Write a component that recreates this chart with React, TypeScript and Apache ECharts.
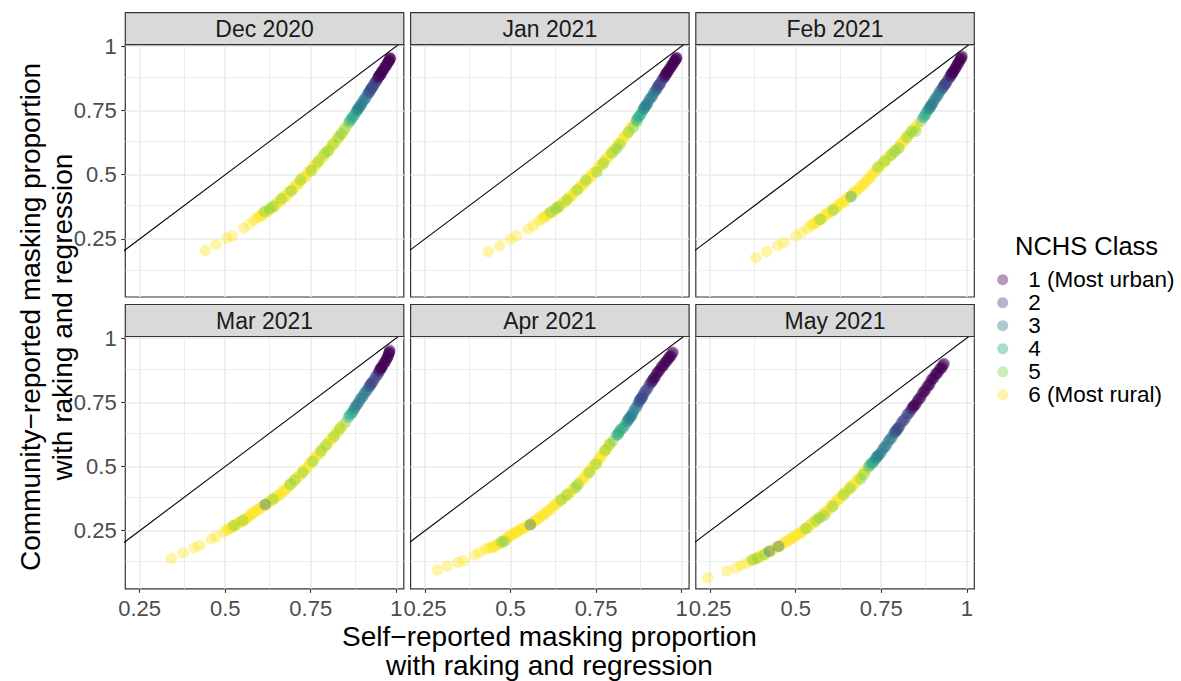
import React, { useEffect, useRef } from "react";
import * as echarts from "echarts";

const panelTitles = ["Dec 2020", "Jan 2021", "Feb 2021", "Mar 2021", "Apr 2021", "May 2021"];
const classNames = ["1 (Most urban)", "2", "3", "4", "5", "6 (Most rural)"];
const classColors = [
  "rgba(68,1,84,0.5)",
  "rgba(65,68,135,0.5)",
  "rgba(42,120,142,0.5)",
  "rgba(34,168,132,0.5)",
  "rgba(122,209,81,0.5)",
  "rgba(253,231,37,0.5)",
];
const xTicks = [0.25, 0.5, 0.75, 1];
const yTicks = [0.25, 0.5, 0.75, 1];
const xMinor = [0.375, 0.625, 0.875];
const yMinor = [0.125, 0.375, 0.625, 0.875];
const xRange = [0.208, 1.022];
const yRange = [0.024, 1.006];
const identityLine = [[0, 0], [1.1, 1.1]];

// [self-reported, community-reported, NCHS class]
const dec2020 = [
  [0.442,0.205,6],[0.473,0.227,6],[0.505,0.253,6],[0.521,0.262,6],[0.554,0.292,6],[0.570,0.307,6],[0.584,0.322,6],
  [0.594,0.331,6],[0.603,0.340,6],[0.612,0.349,6],[0.621,0.357,6],[0.630,0.365,6],[0.639,0.373,6],[0.648,0.383,6],
  [0.657,0.394,6],[0.666,0.405,6],[0.675,0.416,6],[0.684,0.427,6],[0.693,0.439,6],[0.702,0.451,6],[0.711,0.463,6],
  [0.720,0.475,6],[0.729,0.488,6],[0.738,0.501,6],[0.747,0.513,6],[0.756,0.526,6],[0.765,0.540,6],[0.774,0.553,6],
  [0.783,0.567,6],[0.792,0.581,6],[0.801,0.595,6],[0.810,0.610,6],[0.819,0.624,6],[0.828,0.639,6],[0.837,0.655,6],
  [0.846,0.671,6],[0.854,0.686,6],
  [0.598,0.338,6],[0.607,0.341,6],[0.616,0.356,6],[0.626,0.358,6],[0.635,0.373,6],[0.644,0.375,6],[0.652,0.392,6],
  [0.661,0.396,6],[0.670,0.414,6],[0.679,0.417,6],[0.688,0.436,6],[0.697,0.441,6],[0.706,0.460,6],[0.715,0.465,6],
  [0.724,0.487,6],[0.733,0.490,6],[0.742,0.510,6],[0.751,0.515,6],[0.760,0.536,6],[0.769,0.541,6],[0.778,0.563,6],
  [0.787,0.569,6],[0.796,0.592,6],[0.805,0.598,6],[0.814,0.621,6],[0.823,0.627,6],[0.832,0.650,6],[0.841,0.658,6],
  [0.615,0.357,5],[0.630,0.367,5],[0.664,0.406,5],[0.693,0.437,5],[0.752,0.516,5],[0.771,0.550,5],[0.790,0.582,5],
  [0.815,0.617,5],[0.831,0.645,5],[0.849,0.679,5],[0.860,0.700,5],[0.868,0.714,5],
  [0.640,0.378,5],[0.720,0.480,5],[0.800,0.590,5],[0.840,0.660,5],
  [0.864,0.708,4],[0.873,0.725,4],[0.881,0.741,4],[0.889,0.757,4],[0.896,0.771,4],
  [0.869,0.719,4],[0.877,0.731,4],[0.885,0.751,4],
  [0.886,0.750,3],[0.893,0.765,3],[0.900,0.779,3],[0.907,0.793,3],[0.913,0.806,3],[0.919,0.818,3],[0.925,0.830,3],
  [0.931,0.843,3],[0.937,0.856,3],
  [0.889,0.759,3],[0.896,0.770,3],[0.903,0.788,3],[0.910,0.797,3],[0.916,0.814,3],[0.922,0.822,3],[0.928,0.838,3],
  [0.921,0.822,2],[0.928,0.837,2],[0.935,0.851,2],[0.941,0.864,2],[0.947,0.877,2],[0.953,0.889,2],[0.958,0.899,2],
  [0.924,0.831,2],[0.931,0.842,2],[0.938,0.859,2],[0.944,0.867,2],[0.950,0.885,2],[0.955,0.891,2],
  [0.946,0.876,1],[0.951,0.886,1],[0.956,0.896,1],[0.961,0.906,1],[0.965,0.915,1],[0.969,0.923,1],[0.973,0.931,1],
  [0.976,0.938,1],[0.979,0.944,1],[0.981,0.949,1],[0.983,0.955,1],
  [0.948,0.883,1],[0.953,0.889,1],[0.958,0.903,1],[0.963,0.909,1],[0.967,0.921,1],[0.971,0.925,1],[0.975,0.937,1],
  [0.978,0.940,1],[0.982,0.952,1],[0.980,0.951,1],
];

const jan2021 = [
  [0.435,0.201,6],[0.468,0.224,6],[0.500,0.249,6],[0.518,0.262,6],[0.552,0.289,6],[0.567,0.302,6],[0.583,0.320,6],
  [0.593,0.329,6],[0.602,0.338,6],[0.611,0.347,6],[0.620,0.355,6],[0.629,0.364,6],[0.638,0.372,6],[0.647,0.382,6],
  [0.656,0.393,6],[0.665,0.403,6],[0.674,0.414,6],[0.683,0.425,6],[0.692,0.437,6],[0.701,0.449,6],[0.710,0.461,6],
  [0.719,0.473,6],[0.728,0.486,6],[0.737,0.498,6],[0.746,0.511,6],[0.755,0.524,6],[0.764,0.537,6],[0.773,0.551,6],
  [0.782,0.565,6],[0.791,0.579,6],[0.800,0.593,6],[0.809,0.607,6],[0.818,0.622,6],[0.827,0.637,6],[0.836,0.652,6],
  [0.845,0.668,6],[0.853,0.683,6],[0.860,0.697,6],
  [0.597,0.336,6],[0.606,0.339,6],[0.615,0.354,6],[0.625,0.356,6],[0.633,0.371,6],[0.642,0.373,6],[0.651,0.390,6],
  [0.660,0.394,6],[0.669,0.411,6],[0.678,0.416,6],[0.687,0.434,6],[0.696,0.439,6],[0.705,0.458,6],[0.714,0.463,6],
  [0.723,0.482,6],[0.732,0.488,6],[0.741,0.507,6],[0.750,0.513,6],[0.759,0.533,6],[0.768,0.539,6],[0.777,0.560,6],
  [0.786,0.567,6],[0.795,0.588,6],[0.804,0.596,6],[0.813,0.618,6],[0.822,0.625,6],[0.831,0.647,6],[0.840,0.656,6],
  [0.849,0.678,6],
  [0.617,0.354,5],[0.633,0.368,5],[0.665,0.402,5],[0.695,0.441,5],[0.753,0.510,5],[0.772,0.545,5],[0.797,0.584,5],
  [0.820,0.617,5],[0.860,0.684,5],[0.870,0.706,5],
  [0.640,0.376,5],[0.720,0.478,5],[0.810,0.601,5],[0.845,0.666,5],
  [0.868,0.712,4],[0.876,0.728,4],[0.884,0.744,4],[0.891,0.759,4],[0.898,0.772,4],
  [0.872,0.722,4],[0.880,0.734,4],[0.888,0.754,4],
  [0.890,0.758,3],[0.897,0.772,3],[0.904,0.787,3],[0.911,0.801,3],[0.917,0.813,3],[0.923,0.826,3],[0.929,0.839,3],
  [0.935,0.852,3],
  [0.893,0.767,3],[0.900,0.777,3],[0.907,0.796,3],[0.914,0.804,3],[0.920,0.822,3],[0.926,0.830,3],
  [0.928,0.836,2],[0.935,0.851,2],[0.941,0.864,2],[0.947,0.876,2],[0.953,0.888,2],[0.959,0.900,2],
  [0.931,0.846,2],[0.938,0.854,2],[0.944,0.872,2],[0.950,0.879,2],[0.956,0.897,2],
  [0.950,0.882,1],[0.956,0.894,1],[0.961,0.904,1],[0.966,0.914,1],[0.970,0.922,1],[0.974,0.930,1],[0.978,0.938,1],
  [0.981,0.945,1],[0.984,0.951,1],[0.986,0.955,1],
  [0.953,0.890,1],[0.958,0.897,1],[0.963,0.911,1],[0.968,0.916,1],[0.972,0.929,1],[0.976,0.932,1],[0.979,0.944,1],
  [0.983,0.948,1],[0.985,0.955,1],
];

const feb2021 = [
  [0.384,0.177,6],[0.415,0.201,6],[0.447,0.224,6],[0.466,0.236,6],[0.501,0.262,6],[0.518,0.276,6],[0.535,0.292,6],
  [0.545,0.301,6],[0.555,0.311,6],[0.564,0.319,6],[0.574,0.329,6],[0.584,0.339,6],[0.594,0.350,6],[0.604,0.360,6],
  [0.614,0.369,6],[0.624,0.379,6],[0.634,0.389,6],[0.644,0.400,6],[0.654,0.411,6],[0.664,0.423,6],[0.674,0.434,6],
  [0.684,0.446,6],[0.694,0.458,6],[0.704,0.471,6],[0.714,0.485,6],[0.724,0.500,6],[0.734,0.516,6],[0.744,0.531,6],
  [0.754,0.545,6],[0.764,0.558,6],[0.774,0.572,6],[0.784,0.585,6],[0.794,0.598,6],[0.803,0.611,6],[0.812,0.625,6],
  [0.821,0.640,6],[0.830,0.654,6],[0.839,0.668,6],[0.848,0.681,6],[0.857,0.695,6],
  [0.550,0.309,6],[0.559,0.313,6],[0.569,0.327,6],[0.579,0.332,6],[0.589,0.348,6],[0.599,0.352,6],[0.609,0.368,6],
  [0.619,0.371,6],[0.629,0.387,6],[0.639,0.392,6],[0.649,0.409,6],[0.659,0.414,6],[0.669,0.432,6],[0.679,0.437,6],
  [0.689,0.455,6],[0.699,0.461,6],[0.709,0.481,6],[0.719,0.489,6],[0.729,0.511,6],[0.739,0.520,6],[0.749,0.541,6],
  [0.759,0.549,6],[0.769,0.568,6],[0.779,0.576,6],[0.789,0.595,6],[0.798,0.601,6],[0.807,0.621,6],[0.816,0.629,6],
  [0.825,0.650,6],[0.834,0.658,6],[0.843,0.677,6],[0.852,0.685,6],
  [0.572,0.326,5],[0.760,0.553,5],[0.780,0.578,5],[0.802,0.604,5],[0.825,0.645,5],[0.851,0.669,5],[0.866,0.708,5],
  [0.880,0.734,5],
  [0.610,0.362,5],[0.740,0.530,5],[0.790,0.590,5],[0.838,0.668,5],
  [0.662,0.415,4],[0.872,0.722,4],[0.881,0.740,4],[0.889,0.756,4],[0.897,0.772,4],
  [0.876,0.728,4],[0.885,0.750,4],[0.893,0.762,4],
  [0.890,0.758,3],[0.897,0.773,3],[0.904,0.788,3],[0.911,0.802,3],[0.918,0.816,3],[0.925,0.830,3],[0.932,0.843,3],
  [0.938,0.855,3],
  [0.894,0.767,3],[0.901,0.779,3],[0.908,0.797,3],[0.915,0.808,3],[0.921,0.825,3],[0.928,0.834,3],[0.935,0.851,3],
  [0.930,0.840,2],[0.937,0.853,2],[0.943,0.865,2],[0.949,0.877,2],[0.955,0.889,2],[0.960,0.900,2],
  [0.934,0.849,2],[0.940,0.857,2],[0.946,0.873,2],[0.952,0.881,2],[0.957,0.896,2],
  [0.952,0.885,1],[0.958,0.896,1],[0.963,0.906,1],[0.967,0.915,1],[0.971,0.925,1],[0.975,0.934,1],[0.979,0.943,1],
  [0.982,0.951,1],[0.985,0.958,1],[0.986,0.962,1],
  [0.955,0.893,1],[0.960,0.899,1],[0.965,0.913,1],[0.969,0.918,1],[0.973,0.932,1],[0.977,0.936,1],[0.980,0.949,1],
  [0.984,0.953,1],
];

const mar2021 = [
  [0.343,0.142,6],[0.377,0.162,6],[0.409,0.184,6],[0.425,0.192,6],[0.459,0.218,6],[0.474,0.227,6],[0.496,0.246,6],
  [0.505,0.252,6],[0.513,0.259,6],[0.521,0.265,6],[0.529,0.272,6],[0.537,0.278,6],[0.545,0.285,6],[0.554,0.291,6],
  [0.562,0.298,6],[0.570,0.307,6],[0.578,0.315,6],[0.586,0.324,6],[0.596,0.332,6],[0.605,0.341,6],[0.615,0.350,6],
  [0.625,0.359,6],[0.634,0.367,6],[0.644,0.376,6],[0.654,0.386,6],[0.664,0.397,6],[0.674,0.408,6],[0.684,0.421,6],
  [0.693,0.434,6],[0.703,0.447,6],[0.713,0.460,6],[0.722,0.473,6],[0.732,0.486,6],[0.742,0.501,6],[0.751,0.516,6],
  [0.761,0.531,6],[0.771,0.546,6],[0.780,0.561,6],[0.790,0.576,6],[0.800,0.591,6],[0.810,0.606,6],[0.820,0.622,6],
  [0.828,0.635,6],[0.836,0.647,6],[0.844,0.660,6],
  [0.509,0.258,6],[0.517,0.260,6],[0.525,0.271,6],[0.533,0.273,6],[0.541,0.284,6],[0.550,0.286,6],[0.558,0.297,6],
  [0.566,0.300,6],[0.574,0.314,6],[0.582,0.317,6],[0.591,0.331,6],[0.600,0.334,6],[0.610,0.348,6],[0.620,0.352,6],
  [0.630,0.366,6],[0.639,0.369,6],[0.649,0.384,6],[0.659,0.389,6],[0.669,0.405,6],[0.679,0.412,6],[0.689,0.431,6],
  [0.698,0.437,6],[0.708,0.457,6],[0.718,0.464,6],[0.727,0.483,6],[0.737,0.491,6],[0.747,0.512,6],[0.756,0.521,6],
  [0.766,0.542,6],[0.776,0.551,6],[0.785,0.572,6],[0.795,0.581,6],[0.805,0.602,6],[0.815,0.611,6],[0.824,0.632,6],
  [0.832,0.638,6],[0.840,0.657,6],
  [0.525,0.270,5],[0.552,0.290,5],[0.703,0.447,5],[0.727,0.477,5],[0.756,0.520,5],[0.780,0.560,5],[0.818,0.618,5],
  [0.852,0.672,5],
  [0.640,0.374,5],[0.690,0.430,5],[0.795,0.585,5],[0.835,0.648,5],
  [0.860,0.692,4],[0.868,0.706,4],[0.876,0.720,4],
  [0.864,0.701,4],[0.872,0.711,4],
  [0.617,0.352,3],[0.878,0.726,3],[0.885,0.740,3],[0.892,0.754,3],[0.899,0.768,3],[0.906,0.782,3],[0.913,0.795,3],
  [0.920,0.808,3],[0.927,0.822,3],
  [0.881,0.735,3],[0.888,0.745,3],[0.895,0.763,3],[0.902,0.773,3],[0.909,0.790,3],[0.916,0.800,3],[0.923,0.817,3],
  [0.922,0.812,2],[0.930,0.828,2],[0.937,0.842,2],[0.944,0.856,2],[0.950,0.869,2],[0.956,0.882,2],
  [0.926,0.822,2],[0.933,0.833,2],[0.940,0.851,2],[0.947,0.861,2],[0.953,0.878,2],
  [0.950,0.872,1],[0.956,0.885,1],[0.961,0.894,1],[0.966,0.905,1],[0.970,0.914,1],[0.974,0.924,1],[0.977,0.933,1],
  [0.979,0.941,1],[0.980,0.948,1],[0.981,0.953,1],
  [0.953,0.881,1],[0.958,0.887,1],[0.963,0.901,1],[0.968,0.908,1],[0.972,0.921,1],[0.975,0.926,1],[0.978,0.939,1],
  [0.980,0.944,1],
];

const apr2021 = [
  [0.286,0.097,6],[0.315,0.113,6],[0.347,0.126,6],[0.362,0.133,6],[0.396,0.155,6],[0.410,0.166,6],[0.427,0.179,6],
  [0.437,0.182,6],[0.447,0.186,6],[0.457,0.192,6],[0.467,0.199,6],[0.476,0.207,6],[0.484,0.215,6],[0.492,0.223,6],
  [0.500,0.231,6],[0.508,0.237,6],[0.516,0.244,6],[0.524,0.250,6],[0.534,0.257,6],[0.544,0.265,6],[0.554,0.272,6],
  [0.564,0.281,6],[0.573,0.289,6],[0.583,0.298,6],[0.593,0.309,6],[0.602,0.319,6],[0.612,0.330,6],[0.622,0.341,6],
  [0.631,0.352,6],[0.641,0.363,6],[0.651,0.374,6],[0.660,0.384,6],[0.670,0.395,6],[0.680,0.408,6],[0.690,0.421,6],
  [0.700,0.434,6],[0.710,0.449,6],[0.719,0.464,6],[0.729,0.479,6],[0.737,0.492,6],[0.745,0.505,6],[0.753,0.518,6],
  [0.761,0.533,6],[0.769,0.548,6],[0.777,0.563,6],[0.785,0.578,6],[0.793,0.593,6],
  [0.442,0.186,6],[0.452,0.187,6],[0.462,0.197,6],[0.472,0.201,6],[0.480,0.213,6],[0.488,0.217,6],[0.496,0.229,6],
  [0.504,0.232,6],[0.512,0.243,6],[0.520,0.245,6],[0.529,0.256,6],[0.539,0.259,6],[0.549,0.271,6],[0.559,0.275,6],
  [0.569,0.288,6],[0.578,0.292,6],[0.588,0.306,6],[0.598,0.312,6],[0.607,0.327,6],[0.617,0.333,6],[0.627,0.349,6],
  [0.636,0.356,6],[0.646,0.371,6],[0.656,0.377,6],[0.665,0.392,6],[0.675,0.399,6],[0.685,0.417,6],[0.695,0.425,6],
  [0.705,0.444,6],[0.715,0.454,6],[0.724,0.474,6],[0.733,0.483,6],[0.741,0.501,6],[0.749,0.509,6],[0.757,0.528,6],
  [0.765,0.538,6],[0.773,0.558,6],[0.781,0.568,6],[0.789,0.588,6],
  [0.473,0.207,5],[0.482,0.208,5],[0.648,0.370,5],[0.665,0.390,5],[0.697,0.430,5],[0.730,0.476,5],[0.777,0.563,5],
  [0.800,0.600,5],[0.815,0.630,5],[0.826,0.648,5],
  [0.690,0.416,5],[0.750,0.510,5],[0.790,0.585,5],
  [0.810,0.622,4],[0.818,0.635,4],[0.835,0.662,4],[0.845,0.683,4],[0.855,0.703,4],
  [0.814,0.625,4],[0.822,0.645,4],[0.830,0.652,4],[0.840,0.676,4],[0.850,0.690,4],
  [0.558,0.273,3],[0.842,0.675,3],[0.850,0.693,3],[0.858,0.710,3],[0.866,0.728,3],[0.873,0.745,3],[0.880,0.760,3],
  [0.887,0.776,3],
  [0.846,0.688,3],[0.854,0.699,3],[0.862,0.722,3],[0.870,0.734,3],[0.877,0.756,3],[0.884,0.765,3],
  [0.875,0.752,2],[0.882,0.768,2],[0.889,0.783,2],[0.896,0.797,2],[0.903,0.811,2],[0.910,0.826,2],[0.917,0.841,2],
  [0.879,0.762,2],[0.886,0.773,2],[0.893,0.793,2],[0.900,0.801,2],[0.907,0.821,2],[0.914,0.830,2],
  [0.913,0.830,1],[0.920,0.845,1],[0.926,0.858,1],[0.932,0.869,1],[0.938,0.880,1],[0.944,0.890,1],[0.950,0.900,1],
  [0.955,0.910,1],[0.960,0.918,1],[0.965,0.926,1],[0.970,0.935,1],[0.975,0.945,1],
  [0.917,0.840,1],[0.923,0.849,1],[0.929,0.866,1],[0.935,0.872,1],[0.941,0.888,1],[0.947,0.892,1],[0.953,0.907,1],
  [0.958,0.911,1],[0.963,0.925,1],[0.968,0.928,1],[0.973,0.942,1],
];

const may2021 = [
  [0.243,0.067,6],[0.299,0.093,6],[0.326,0.106,6],[0.340,0.114,6],[0.355,0.123,6],[0.367,0.131,6],[0.379,0.140,6],
  [0.389,0.146,6],[0.399,0.153,6],[0.411,0.160,6],[0.423,0.168,6],[0.435,0.178,6],[0.448,0.188,6],[0.460,0.197,6],
  [0.472,0.207,6],[0.482,0.215,6],[0.491,0.223,6],[0.501,0.231,6],[0.511,0.240,6],[0.520,0.249,6],[0.530,0.259,6],
  [0.540,0.270,6],[0.549,0.280,6],[0.559,0.291,6],[0.569,0.302,6],[0.579,0.313,6],[0.589,0.324,6],[0.599,0.337,6],
  [0.608,0.350,6],[0.618,0.363,6],[0.628,0.376,6],[0.637,0.389,6],[0.647,0.402,6],[0.657,0.415,6],[0.666,0.427,6],
  [0.676,0.440,6],[0.686,0.455,6],[0.695,0.470,6],[0.705,0.486,6],
  [0.373,0.138,6],[0.384,0.140,6],[0.394,0.152,6],[0.405,0.154,6],[0.417,0.167,6],[0.429,0.170,6],[0.441,0.186,6],
  [0.454,0.189,6],[0.466,0.205,6],[0.477,0.208,6],[0.486,0.222,6],[0.496,0.224,6],[0.506,0.238,6],[0.515,0.241,6],
  [0.525,0.257,6],[0.535,0.261,6],[0.544,0.278,6],[0.554,0.282,6],[0.564,0.299,6],[0.574,0.304,6],[0.584,0.322,6],
  [0.594,0.327,6],[0.603,0.346,6],[0.613,0.353,6],[0.623,0.372,6],[0.632,0.379,6],[0.642,0.398,6],[0.652,0.405,6],
  [0.661,0.424,6],[0.671,0.430,6],[0.681,0.450,6],[0.690,0.459,6],[0.700,0.481,6],
  [0.374,0.137,5],[0.388,0.143,5],[0.530,0.259,5],[0.559,0.289,5],[0.584,0.310,5],[0.608,0.344,5],[0.660,0.415,5],
  [0.690,0.450,5],[0.712,0.497,5],
  [0.410,0.158,5],[0.570,0.300,5],[0.640,0.390,5],[0.700,0.470,5],
  [0.716,0.503,4],[0.724,0.515,4],[0.730,0.524,4],[0.740,0.540,4],
  [0.720,0.512,4],[0.727,0.516,4],[0.735,0.536,4],
  [0.423,0.170,3],[0.450,0.190,3],[0.735,0.531,3],[0.744,0.547,3],[0.752,0.561,3],[0.760,0.576,3],[0.768,0.591,3],
  [0.776,0.606,3],[0.784,0.621,3],[0.792,0.636,3],[0.800,0.651,3],
  [0.739,0.542,3],[0.748,0.551,3],[0.756,0.571,3],[0.764,0.580,3],[0.772,0.602,3],[0.780,0.610,3],[0.788,0.632,3],
  [0.796,0.640,3],
  [0.790,0.633,2],[0.798,0.648,2],[0.806,0.663,2],[0.814,0.678,2],[0.822,0.692,2],[0.829,0.706,2],[0.837,0.720,2],
  [0.845,0.734,2],
  [0.794,0.644,2],[0.802,0.652,2],[0.810,0.674,2],[0.818,0.682,2],[0.826,0.703,2],[0.833,0.710,2],[0.841,0.731,2],
  [0.840,0.725,1],[0.847,0.738,1],[0.854,0.751,1],[0.861,0.764,1],[0.868,0.778,1],[0.875,0.792,1],[0.881,0.803,1],
  [0.888,0.816,1],[0.894,0.828,1],[0.900,0.842,1],[0.906,0.852,1],[0.912,0.862,1],[0.918,0.872,1],[0.924,0.882,1],
  [0.929,0.891,1],[0.934,0.900,1],
  [0.844,0.735,1],[0.851,0.742,1],[0.858,0.761,1],[0.865,0.768,1],[0.872,0.789,1],[0.878,0.794,1],[0.885,0.813,1],
  [0.891,0.818,1],[0.897,0.839,1],[0.903,0.843,1],[0.909,0.861,1],[0.915,0.863,1],[0.921,0.881,1],[0.927,0.883,1],
  [0.932,0.899,1],
];

const panelData = [dec2020, jan2021, feb2021, mar2021, apr2021, may2021];

const FONT = "Liberation Sans, Arial, sans-serif";
const panelLeft = [125.3, 410.6, 695.8];
const panelTop = [44.7, 336.5];
const panelW = 278.5;
const panelH = 252.3;
const stripH = 32;

function buildOption() {
  const grid: any[] = [];
  const xAxis: any[] = [];
  const yAxis: any[] = [];
  const series: any[] = [];
  const graphic: any[] = [];

  panelTitles.forEach((title, p) => {
    const r = Math.floor(p / 3);
    const c = p % 3;
    grid.push({
      left: panelLeft[c],
      top: panelTop[r],
      width: panelW,
      height: panelH,
      show: true,
      borderColor: "#333333",
      borderWidth: 1.2,
      backgroundColor: "transparent",
      containLabel: false,
    });
    xAxis.push({
      type: "value",
      gridIndex: p,
      min: xRange[0],
      max: xRange[1],
      axisLine: { show: false },
      splitLine: { show: false },
      axisTick: {
        show: r === 1,
        customValues: xTicks,
        length: 4,
        lineStyle: { color: "#333333", width: 1.1 },
      },
      axisLabel: {
        show: r === 1,
        customValues: xTicks,
        margin: 9,
        fontSize: 22,
        lineHeight: 22,
        color: "#4D4D4D",
        fontFamily: FONT,
        formatter: (v: number) => String(v),
      },
    });
    yAxis.push({
      type: "value",
      gridIndex: p,
      min: yRange[0],
      max: yRange[1],
      axisLine: { show: false },
      splitLine: { show: false },
      axisTick: {
        show: c === 0,
        customValues: yTicks,
        length: 4,
        lineStyle: { color: "#333333", width: 1.1 },
      },
      axisLabel: {
        show: c === 0,
        customValues: yTicks,
        margin: 8.6,
        fontSize: 22,
        color: "#4D4D4D",
        fontFamily: FONT,
        formatter: (v: number) => String(v),
      },
    });

    const gridLines = [
      ...xMinor.map((v) => ({ xAxis: v, lineStyle: { color: "#EBEBEB", width: 0.9, type: "solid" } })),
      ...yMinor.map((v) => ({ yAxis: v, lineStyle: { color: "#EBEBEB", width: 0.9, type: "solid" } })),
      ...xTicks.map((v) => ({ xAxis: v, lineStyle: { color: "#EBEBEB", width: 1.6, type: "solid" } })),
      ...yTicks.map((v) => ({ yAxis: v, lineStyle: { color: "#EBEBEB", width: 1.6, type: "solid" } })),
    ];

    const pts = panelData[p];
    for (let k = 6; k >= 1; k--) {
      series.push({
        type: "scatter",
        name: classNames[k - 1],
        xAxisIndex: p,
        yAxisIndex: p,
        data: pts.filter((d) => d[2] === k).map((d) => [d[0], d[1]]),
        symbol: "circle",
        symbolSize: 11.5,
        itemStyle: { color: classColors[k - 1] },
        silent: true,
        z: 2,
      });
    }

    series.push({
      type: "line",
      xAxisIndex: p,
      yAxisIndex: p,
      data: identityLine,
      showSymbol: false,
      symbol: "none",
      clip: true,
      silent: true,
      z: 3,
      lineStyle: { color: "#000000", width: 1.1 },
      markLine: {
        silent: true,
        symbol: ["none", "none"],
        label: { show: false },
        z: 1,
        data: gridLines,
      },
    });

    graphic.push({
      type: "rect",
      shape: { x: panelLeft[c], y: panelTop[r] - stripH, width: panelW, height: stripH },
      style: { fill: "#D9D9D9", stroke: "#333333", lineWidth: 1.2 },
      z: 10,
    });
    graphic.push({
      type: "text",
      x: panelLeft[c] + panelW / 2,
      y: panelTop[r] - stripH / 2,
      style: {
        text: title,
        fontSize: 23,
        fontFamily: FONT,
        fill: "#1A1A1A",
        align: "center",
        verticalAlign: "middle",
      },
      z: 11,
    });
  });

  graphic.push({
    type: "text",
    x: 549.5,
    y: 650.8,
    style: {
      text: "Self\u2212reported masking proportion\nwith raking and regression",
      fontSize: 28,
      lineHeight: 29.5,
      fontFamily: FONT,
      fill: "#000000",
      align: "center",
      verticalAlign: "middle",
    },
  });
  graphic.push({
    type: "text",
    x: 46,
    y: 317,
    rotation: Math.PI / 2,
    style: {
      text: "Community\u2212reported masking proportion\nwith raking and regression",
      fontSize: 28,
      lineHeight: 32,
      fontFamily: FONT,
      fill: "#000000",
      align: "center",
      verticalAlign: "middle",
    },
  });
  graphic.push({
    type: "text",
    x: 1015,
    y: 245.7,
    style: {
      text: "NCHS Class",
      fontSize: 25.5,
      fontFamily: FONT,
      fill: "#000000",
      align: "left",
      verticalAlign: "middle",
    },
  });

  return {
    animation: false,
    backgroundColor: "#FFFFFF",
    grid,
    xAxis,
    yAxis,
    series,
    graphic,
    legend: {
      show: true,
      orient: "vertical",
      left: 997.2,
      top: 268.2,
      padding: 0,
      itemWidth: 11,
      itemHeight: 11,
      itemGap: 0,
      icon: "circle",
      selectedMode: false,
      data: classNames,
      textStyle: {
        fontSize: 22.5,
        lineHeight: 22.3,
        padding: [0, 0, 0, 15],
        color: "#000000",
        fontFamily: FONT,
      },
    },
  };
}

export default function App() {
  const ref = useRef<HTMLDivElement>(null);
  useEffect(() => {
    if (!ref.current) return;
    const chart = echarts.init(ref.current, null, { renderer: "svg" });
    chart.setOption(buildOption() as any);
    return () => chart.dispose();
  }, []);
  return (
    <div
      ref={ref}
      style={{ position: "absolute", left: 0, top: 0, width: 1181, height: 681, background: "#fff" }}
    />
  );
}
